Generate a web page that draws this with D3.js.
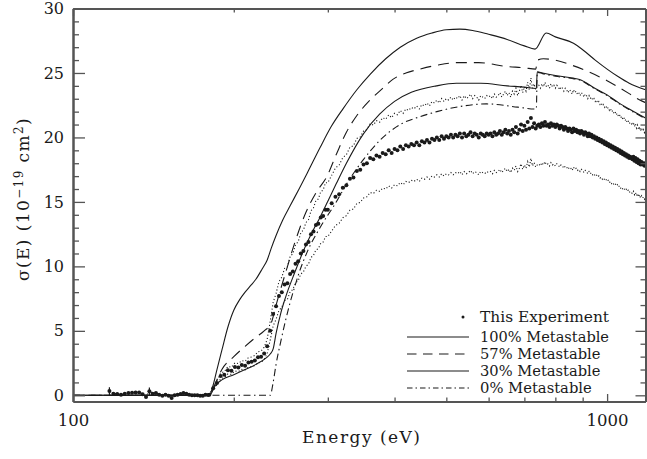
<!DOCTYPE html>
<html>
<head>
<meta charset="utf-8">
<script src="https://cdn.jsdelivr.net/npm/d3@7"></script>
<style>
  body { margin: 0; background: #fff; }
  svg { display: block; }
  text { font-family: "DejaVu Serif", serif; fill: #1a1a1a; }
</style>
</head>
<body>
<svg id="chart" width="647" height="459"></svg>
<script>
// ---------------- axis ticks ----------------
const energyMajorTicks = [100, 1000];
const energyMinorTicks = [200, 300, 400, 500, 600, 700, 800, 900];
const sigmaMajorTicks = [0, 5, 10, 15, 20, 25, 30];
const sigmaMinorTicks = d3.range(0, 31, 1);

// ---------------- measured cross section (10^-19 cm^2) ----------------
// scan 1: 117 .. 179 eV, 2 eV steps (below threshold)
const scanAStart = 117, scanAStep = 2;
const sigmaScanA = [0.33, 0.12, 0.10, 0.05, 0.12, 0.18, 0.20, 0.22, 0.22, 0.08, -0.13, 0.31, 0.13, 0.18, 0.05, -0.03,
  0.05, -0.03, -0.20, 0.00, 0.05, 0.10, 0.18, 0.13, 0.05, 0.00, 0.00, 0.00, -0.03, -0.03, 0.05, 0.02];
// scan 2: 180 .. 300 eV, 3 eV steps
const scanBStart = 180, scanBStep = 3;
const sigmaScanB = [0.05, 0.55, 0.95, 1.5, 1.6, 1.95, 1.9, 2.2, 2.15, 2.35, 2.3, 2.55, 2.6, 2.7, 2.95, 3.0, 3.25, 3.8,
  5.0, 6.3, 6.9, 7.7, 8.0, 8.6, 8.7, 9.4, 9.6, 10.2, 10.4, 11.0, 11.2, 11.7, 11.9, 12.5, 12.7, 13.2, 13.3, 13.8, 13.9, 14.4, 14.4];
// scan 3: 305 .. 600 eV, 5 eV steps
const scanCStart = 305, scanCStep = 5;
const sigmaScanC = [14.9, 15.4, 15.6, 16.1, 16.3, 16.8, 16.9, 17.4, 17.5, 17.9, 18.0, 18.4, 18.3, 18.6, 18.5, 18.8, 18.7, 19.0,
  18.8, 19.1, 19.0, 19.3, 19.1, 19.4, 19.3, 19.5, 19.4, 19.6, 19.4, 19.7, 19.6, 19.8, 19.6, 19.9, 19.8, 20.0, 19.8, 20.1,
  19.9, 20.1, 20.0, 20.2, 20.0, 20.2, 20.1, 20.3, 20.0, 20.3, 20.1, 20.2, 20.4, 20.1, 20.3, 20.2, 20.0, 20.3, 20.2, 20.1, 20.3, 20.2];
// scan 4: 605 .. 1180 eV, 5 eV steps
const scanDStart = 605, scanDStep = 5;
const sigmaScanD = [20.3, 20.1, 20.4, 20.2, 20.3, 20.5, 20.2, 20.4, 20.6, 20.3,
  20.5, 20.2, 20.6, 20.4, 20.8, 20.3, 20.6, 21.0, 20.5, 20.9,
  20.6, 21.2, 20.7, 21.5, 20.8, 21.1, 20.7, 20.9, 21.0, 20.8,
  21.1, 20.9, 21.2, 20.9, 21.0, 20.8, 21.1, 20.9, 21.0, 20.8,
  21.0, 20.9, 20.7, 20.9, 20.8, 20.6, 20.8, 20.7, 20.5, 20.7,
  20.6, 20.4, 20.7, 20.5, 20.6, 20.4, 20.5, 20.3, 20.5, 20.4,
  20.2, 20.4, 20.3, 20.1, 20.3, 20.1, 20.2, 20.0, 20.1, 19.9,
  20.0, 19.8, 19.9, 19.7, 19.8, 19.6, 19.7, 19.5, 19.6, 19.4,
  19.5, 19.3, 19.4, 19.2, 19.3, 19.1, 19.2, 19.0, 19.1, 18.9,
  19.0, 18.8, 18.9, 18.7, 18.8, 18.6, 18.7, 18.5, 18.6, 18.4,
  18.5, 18.4, 18.3, 18.5, 18.2, 18.4, 18.1, 18.3, 18.0, 18.2,
  17.9, 18.1, 17.9, 18.0, 17.8, 18.0];
// statistical error bars shown below threshold
const errorBarEnergy = [117, 139];
const errorBarHalf = [0.3, 0.3];
// systematic uncertainty envelope (fractional)
const systematicUncertainty = 0.145;

// ---------------- model cross sections ----------------
const model100Energy = [100, 180, 183, 186, 190, 195, 200, 205, 210, 215, 220, 226, 231, 235, 240, 247, 255, 265, 275, 290,
  305, 320, 340, 360, 385, 410, 440, 470, 500, 530, 560, 600, 650, 700, 733, 769, 800, 865, 900, 950, 1000, 1050, 1100, 1180];
const model100Sigma = [0, 0, 0.8, 2.0, 3.5, 5.3, 6.6, 7.4, 8.0, 8.5, 9.0, 9.8, 10.5, 11.4, 12.4, 13.6, 14.7, 16.0, 17.3, 19.2,
  20.9, 22.2, 23.7, 24.9, 26.1, 27.0, 27.7, 28.1, 28.35, 28.4, 28.3, 28.0, 27.6, 27.1, 26.85, 28.1, 27.8, 27.3, 26.8, 26.0, 25.3, 24.7, 24.2, 23.7];

const model57Energy = [100, 180, 185, 190, 200, 210, 220, 228, 235, 240, 250, 260, 273, 285, 299, 312, 325, 340, 360, 380,
  397, 420, 446, 480, 522, 575, 649, 700, 735, 741, 760, 798, 859, 922, 1000, 1050, 1100, 1151, 1180];
const model57Sigma = [0, 0, 1.0, 2.0, 3.0, 3.8, 4.5, 5.0, 5.6, 7.0, 9.5, 11.8, 14.2, 15.7, 17.0, 18.8, 20.4, 21.7, 22.9, 23.8,
  24.5, 25.0, 25.3, 25.6, 25.8, 25.8, 25.5, 25.4, 25.3, 26.0, 26.1, 26.0, 25.6, 25.1, 24.4, 23.9, 23.4, 22.9, 22.7];

const model30Energy = [100, 180, 185, 190, 200, 210, 220, 230, 234, 237, 240, 245, 250, 260, 270, 280, 290, 300, 311, 325,
  350, 375, 400, 430, 479, 522, 580, 650, 700, 737, 740, 757, 800, 864, 888, 950, 1000, 1050, 1100, 1180];
const model30Sigma = [0, 0, 0.8, 1.2, 1.6, 2.0, 2.4, 2.9, 3.2, 3.6, 4.8, 6.4, 7.6, 9.5, 11.2, 12.6, 13.8, 15.05, 16.4, 18.0,
  20.3, 21.8, 22.8, 23.5, 24.0, 24.2, 24.2, 24.0, 23.9, 23.8, 25.1, 25.0, 24.8, 24.6, 24.5, 23.8, 23.3, 22.7, 22.2, 21.5];

const model0Energy = [100, 234, 237, 240, 245, 250, 255, 260, 265, 275, 290, 309, 330, 350, 376, 414, 446, 480, 515, 595, 680,
  733, 737, 740, 757, 800, 864, 888, 950, 1000, 1050, 1100, 1180];
const model0Sigma = [0, 0, 1.0, 2.4, 4.2, 5.8, 7.2, 8.4, 9.5, 11.2, 13.0, 14.8, 16.8, 18.3, 19.8, 21.1, 21.6, 22.0, 22.3, 22.6, 22.35,
  22.2, 22.2, 25.05, 24.95, 24.75, 24.55, 24.45, 23.75, 23.25, 22.65, 22.15, 21.45];

// ---------------- legend ----------------
const legendLabels = ["This Experiment", "100% Metastable", "57% Metastable", "30% Metastable", "0% Metastable"];
const legendKeys = ["data", "m100", "m57", "m30", "m0"];

// ---------------- layout ----------------
const svg = d3.select("#chart");
const plot = { left: 73, right: 645.5, top: 8.5, bottom: 401.5 };

const x = d3.scaleLog().domain([100, 1180]).range([plot.left, plot.right]);
const y = d3.scaleLinear().domain([-0.48, 30]).range([plot.bottom, plot.top]);

const lineStyles = {
  m100: { dash: null, legendDash: null, width: 1.1 },
  m57: { dash: "11,7", legendDash: "9.5,6.5", width: 1.1 },
  m30: { dash: null, legendDash: null, width: 1.1 },
  m0: { dash: "7,3.5,1.5,3.5", legendDash: "5.5,3,1.5,3", width: 1.1 },
  band: { dash: "1.1,2.2", width: 1.1 }
};
const ink = "#1a1a1a";

svg.append("defs").append("clipPath").attr("id", "plotClip")
  .append("rect")
  .attr("x", plot.left).attr("y", plot.top)
  .attr("width", plot.right - plot.left).attr("height", plot.bottom - plot.top);

const layer = svg.append("g").attr("clip-path", "url(#plotClip)");

// assemble measured points
function scan(start, step, values) {
  return values.map((v, i) => ({ e: start + i * step, s: v }));
}
const measured = [].concat(
  scan(scanAStart, scanAStep, sigmaScanA),
  scan(scanBStart, scanBStep, sigmaScanB),
  scan(scanCStart, scanCStep, sigmaScanC),
  scan(scanDStart, scanDStep, sigmaScanD)
);

const line = d3.line().x(d => x(d.e)).y(d => y(d.s)).curve(d3.curveMonotoneX);
const zipCurve = (es, ss) => es.map((e, i) => ({ e, s: ss[i] }));

// uncertainty envelope (dotted)
const upperBand = measured.map(d => ({ e: d.e, s: d.s * (1 + systematicUncertainty) }));
const lowerBand = measured.map(d => ({ e: d.e, s: d.s * (1 - systematicUncertainty) }));
[upperBand, lowerBand].forEach(band => {
  layer.append("path")
    .attr("d", d3.line().x(d => x(d.e)).y(d => y(d.s))(band))
    .attr("fill", "none").attr("stroke", ink)
    .attr("stroke-width", lineStyles.band.width)
    .attr("stroke-dasharray", lineStyles.band.dash);
});

// model curves
const models = [
  { key: "m100", data: zipCurve(model100Energy, model100Sigma) },
  { key: "m57", data: zipCurve(model57Energy, model57Sigma) },
  { key: "m30", data: zipCurve(model30Energy, model30Sigma) },
  { key: "m0", data: zipCurve(model0Energy, model0Sigma) }
];
models.forEach(m => {
  layer.append("path")
    .attr("d", line(m.data))
    .attr("fill", "none").attr("stroke", ink)
    .attr("stroke-width", lineStyles[m.key].width)
    .attr("stroke-dasharray", lineStyles[m.key].dash);
});

// error bars
layer.selectAll("line.err").data(errorBarEnergy).join("line")
  .attr("class", "err")
  .attr("x1", e => x(e)).attr("x2", e => x(e))
  .attr("y1", (e, i) => y(measured.find(d => d.e === e).s - errorBarHalf[i]))
  .attr("y2", (e, i) => y(measured.find(d => d.e === e).s + errorBarHalf[i]))
  .attr("stroke", ink).attr("stroke-width", 1.2);

// measured points
layer.selectAll("circle.pt").data(measured).join("circle")
  .attr("class", "pt")
  .attr("cx", d => x(d.e)).attr("cy", d => y(d.s))
  .attr("r", 2.0).attr("fill", ink);

// ---------------- axes ----------------
const axisColor = "#555";
function styleAxis(size) {
  return g => {
    g.select(".domain").attr("stroke", axisColor).attr("stroke-width", 2);
    g.selectAll(".tick line").attr("stroke", axisColor).attr("stroke-width", 1.3);
    g.selectAll(".tick text").attr("fill", ink)
      .style("font-family", '"DejaVu Serif", serif').style("font-size", size);
  };
}

// bottom
svg.append("g").attr("transform", `translate(0,${plot.bottom})`)
  .call(d3.axisBottom(x).tickValues(energyMinorTicks).tickSize(-4).tickSizeOuter(0).tickFormat(""))
  .call(styleAxis("16px"));
svg.append("g").attr("transform", `translate(0,${plot.bottom})`)
  .call(d3.axisBottom(x).tickValues(energyMajorTicks).tickSize(-7.5).tickSizeOuter(0).tickPadding(13).tickFormat(d3.format("d")))
  .call(styleAxis("16.5px"));
// top
svg.append("g").attr("transform", `translate(0,${plot.top})`)
  .call(d3.axisTop(x).tickValues(energyMinorTicks).tickSize(-4).tickSizeOuter(0).tickFormat(""))
  .call(styleAxis("16px"));
svg.append("g").attr("transform", `translate(0,${plot.top})`)
  .call(d3.axisTop(x).tickValues(energyMajorTicks).tickSize(-7.5).tickSizeOuter(0).tickFormat(""))
  .call(styleAxis("16px"));
// left
svg.append("g").attr("transform", `translate(${plot.left},0)`)
  .call(d3.axisLeft(y).tickValues(sigmaMinorTicks.filter(v => v % 5 !== 0)).tickSize(-6).tickSizeOuter(0).tickFormat(""))
  .call(styleAxis("16px"));
svg.append("g").attr("transform", `translate(${plot.left},0)`)
  .call(d3.axisLeft(y).tickValues(sigmaMajorTicks).tickSize(-12).tickSizeOuter(0).tickPadding(9).tickFormat(d3.format("d")))
  .call(styleAxis("16px"));
// right
svg.append("g").attr("transform", `translate(${plot.right},0)`)
  .call(d3.axisRight(y).tickValues(sigmaMinorTicks.filter(v => v % 5 !== 0)).tickSize(-5).tickSizeOuter(0).tickFormat(""))
  .call(styleAxis("16px"));
svg.append("g").attr("transform", `translate(${plot.right},0)`)
  .call(d3.axisRight(y).tickValues(sigmaMajorTicks).tickSize(-10).tickSizeOuter(0).tickFormat(""))
  .call(styleAxis("16px"));

// axis titles
svg.append("text")
  .attr("x", 361).attr("y", 443)
  .attr("text-anchor", "middle")
  .style("font-size", "17px")
  .attr("textLength", 118).attr("lengthAdjust", "spacing")
  .text("Energy (eV)");

const yTitle = svg.append("text")
  .attr("transform", "translate(29,199) rotate(-90)")
  .attr("text-anchor", "middle")
  .style("font-size", "17px")
  .style("letter-spacing", "1.4px");
yTitle.append("tspan").text("\u03c3(E)  (10");
yTitle.append("tspan").attr("dy", -6.5).style("font-size", "12px").text("\u221219");
yTitle.append("tspan").attr("dy", 6.5).text("  cm");
yTitle.append("tspan").attr("dy", -6.5).style("font-size", "12px").text("2");
yTitle.append("tspan").attr("dy", 6.5).text(")");

// ---------------- legend ----------------
const legend = svg.append("g");
const legendRowY = [317, 337, 354, 371, 388];
legendKeys.forEach((k, i) => {
  const ry = legendRowY[i];
  if (k === "data") {
    legend.append("circle").attr("cx", 463).attr("cy", ry).attr("r", 1.5).attr("fill", ink);
  } else {
    legend.append("line")
      .attr("x1", 407).attr("x2", 469).attr("y1", ry).attr("y2", ry)
      .attr("stroke", ink).attr("stroke-width", 1.1)
      .attr("stroke-dasharray", lineStyles[k].legendDash);
  }
  legend.append("text")
    .attr("x", 480).attr("y", ry + 5)
    .style("font-size", "14px")
    .attr("textLength", legendLabels[i].length * 8.6).attr("lengthAdjust", "spacingAndGlyphs")
    .text(legendLabels[i]);
});
</script>
</body>
</html>
